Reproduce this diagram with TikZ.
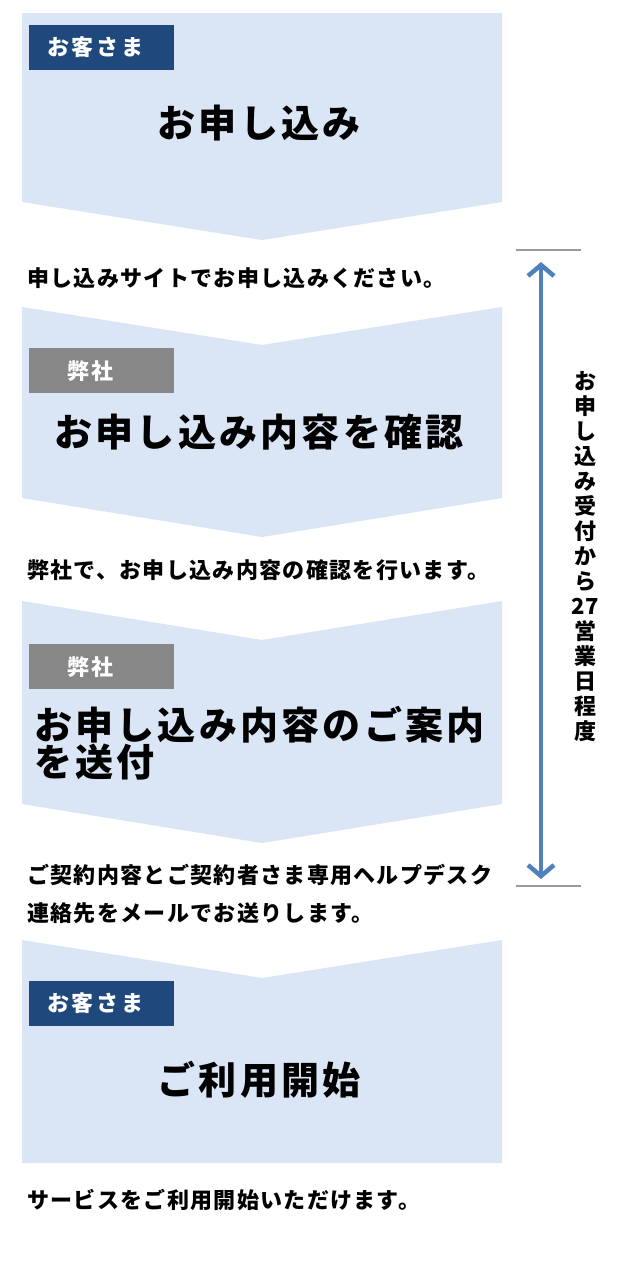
\documentclass[tikz,border=0pt]{standalone}
\usepackage{fontspec}
\setmainfont{Noto Sans CJK JP}
\newfontfamily\titlefont{Noto Sans CJK JP}[LetterSpace=8.5]
\newfontfamily\bodyfont{Noto Sans CJK JP}[LetterSpace=6]
\newfontfamily\tagfont{Noto Sans CJK JP}[LetterSpace=12]
\newfontfamily\vertfont{Noto Sans CJK JP}
\usetikzlibrary{arrows.meta}
\definecolor{panelblue}{HTML}{DAE5F5}
\definecolor{tagblue}{HTML}{1F497D}
\definecolor{taggray}{HTML}{878787}
\definecolor{linegray}{HTML}{9A9A9A}
\definecolor{arrowblue}{HTML}{4F81BD}
\tikzset{
  panel/.style={fill=panelblue, draw=none},
  tagbox/.style={minimum width=145pt, minimum height=45pt, anchor=north west, inner sep=0pt, outer sep=0pt},
  tagtext/.style={anchor=west, inner sep=0pt, text=white, font=\tagfont\bfseries\fontsize{22}{24}\selectfont},
  titletext/.style={inner sep=0pt, font=\titlefont\bfseries\fontsize{38}{40}\selectfont},
  bodytext/.style={anchor=west, inner sep=0pt, font=\bodyfont\bfseries\fontsize{22}{38}\selectfont},
  gline/.style={draw=linegray, line width=2.5pt},
}
\begin{document}
\begin{tikzpicture}[x=1pt, y=-1pt]
\useasboundingbox (0,0) rectangle (640,1272);
\fill[white] (0,0) rectangle (640,1272);
% panels
\fill[panel] (22,13) -- (502,13) -- (502,202) -- (262,240) -- (22,202) -- cycle;
\fill[panel] (22,307) -- (262,345) -- (502,307) -- (502,498) -- (262,537) -- (22,498) -- cycle;
\fill[panel] (22,601) -- (262,640) -- (502,601) -- (502,804) -- (262,843) -- (22,804) -- cycle;
\fill[panel] (22,940) -- (262,978) -- (502,940) -- (502,1163) -- (22,1163) -- cycle;
% tags
\node[tagbox, fill=tagblue] (tag1) at (29,25) {};
\node[tagtext] (tag1t) at (47,47) {お客さま};
\node[tagbox, fill=taggray] (tag2) at (29,348) {};
\node[tagtext] (tag2t) at (67,371) {弊社};
\node[tagbox, fill=taggray] (tag3) at (29,644) {};
\node[tagtext] (tag3t) at (67,667) {弊社};
\node[tagbox, fill=tagblue] (tag4) at (29,981) {};
\node[tagtext] (tag4t) at (47,1003) {お客さま};
% titles
\node[titletext] (title1) at (259,123) {お申し込み};
\node[titletext] (title2) at (259,432) {お申し込み内容を確認};
\node[titletext, anchor=west] (title3a) at (34,725) {お申し込み内容のご案内};
\node[titletext, anchor=west] (title3b) at (34,762) {を送付};
\node[titletext] (title4) at (259,1080) {ご利用開始};
% body texts
\node[bodytext] (body1) at (27,278) {申し込みサイトでお申し込みください。};
\node[bodytext] (body2) at (27,570) {弊社で、お申し込み内容の確認を行います。};
\node[bodytext] (body3a) at (27,875) {ご契約内容とご契約者さま専用ヘルプデスク};
\node[bodytext] (body3b) at (27,913) {連絡先をメールでお送りします。};
\node[bodytext] (body4) at (27,1200) {サービスをご利用開始いただけます。};
% right span
\coordinate (gl1a) at (516,250); \coordinate (gl1b) at (581,250);
\coordinate (gl2a) at (516,886); \coordinate (gl2b) at (581,886);
\draw[gline] (gl1a) -- (gl1b);
\draw[gline] (gl2a) -- (gl2b);
\coordinate (atop) at (541,262);
\coordinate (abot) at (541,879);
\draw[arrowblue, line width=4.5pt, {Straight Barb[length=11pt,width=26pt]}-{Straight Barb[length=11pt,width=26pt]}] (atop) -- (abot);
\node[inner sep=0pt, font=\vertfont\bfseries\fontsize{22}{25}\selectfont, align=center] (span) at (585,557)
  {お\\申\\し\\込\\み\\受\\付\\か\\ら\\27\\営\\業\\日\\程\\度};
\end{tikzpicture}
\end{document}
